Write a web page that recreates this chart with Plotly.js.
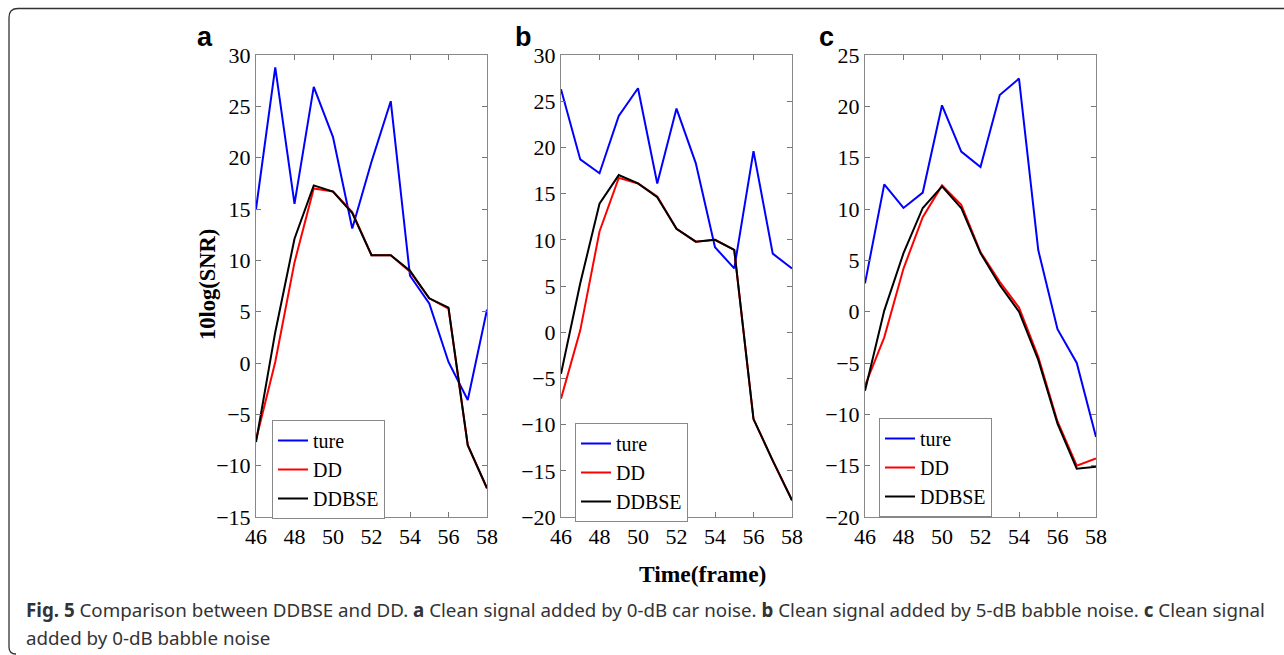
<!DOCTYPE html>
<html>
<head>
<meta charset="utf-8">
<script src="https://cdn.plot.ly/plotly-3.0.1.min.js"></script>
<style>
html,body{margin:0;padding:0;background:#fff;}
#chart{width:1284px;height:655px;}
</style>
</head>
<body>
<div id="chart"></div>
<script>
// ---- data ----
var frames = [46,47,48,49,50,51,52,53,54,55,56,57,58];
var seriesNames = ["ture","DD","DDBSE"];

var tureA  = [15.0, 28.8, 15.5, 26.9, 22.0, 13.1, 19.6, 25.5, 8.5, 5.8, 0.1, -3.6, 5.2];
var ddA    = [-7.5, 0.1, 9.8, 17.0, 16.7, 14.7, 10.5, 10.5, 8.9, 6.3, 5.3, -8.0, -12.2];
var ddbseA = [-7.7, 3.0, 12.1, 17.3, 16.7, 14.6, 10.5, 10.5, 9.0, 6.3, 5.4, -8.0, -12.2];

var tureB  = [26.3, 18.7, 17.2, 23.4, 26.4, 16.1, 24.2, 18.3, 9.2, 6.9, 19.6, 8.5, 6.9];
var ddB    = [-7.2, 0.2, 10.9, 16.7, 16.1, 14.7, 11.2, 9.8, 10.0, 8.9, -9.4, -13.9, -18.2];
var ddbseB = [-4.5, 5.3, 13.9, 17.0, 16.1, 14.6, 11.2, 9.8, 10.0, 8.9, -9.4, -13.9, -18.2];

var tureC  = [2.75, 12.4, 10.1, 11.6, 20.1, 15.6, 14.1, 21.1, 22.7, 6.0, -1.7, -5.0, -12.2];
var ddC    = [-7.2, -2.5, 4.2, 9.2, 12.3, 10.4, 5.8, 2.9, 0.4, -4.4, -10.7, -15.0, -14.3];
var ddbseC = [-7.7, 0.1, 5.7, 10.1, 12.2, 10.1, 5.7, 2.6, 0.0, -4.7, -10.9, -15.3, -15.1];

var panelLetters = ["a","b","c"];
var yRanges = [[-15,30],[-20,30],[-20,25]];
var yLabel = "10log(SNR)";
var xLabel = "Time(frame)";
var captionLine1 = "<b>Fig. 5</b> Comparison between DDBSE and DD. <b>a</b> Clean signal added by 0-dB car noise. <b>b</b> Clean signal added by 5-dB babble noise. <b>c</b> Clean signal";
var captionLine2 = "added by 0-dB babble noise";

// ---- layout helpers ----
var W = 1284, H = 655;
function px(x){ return x / W; }
function py(y){ return 1 - y / H; }
var SERIF = "Liberation Serif";

var colors = ["#0000ff", "#ff0000", "#000000"];
var panels = [[tureA, ddA, ddbseA],[tureB, ddB, ddbseB],[tureC, ddC, ddbseC]];
var xDom = [[256,487],[561,792],[865,1096]];
var legendPos = [[272,420],[575,423],[879,418]];
var letterPos = [[205,37],[523,37],[826,37]];

var traces = [];
panels.forEach(function(p, i){
  p.forEach(function(vals, j){
    traces.push({
      x: frames, y: vals, type: "scatter", mode: "lines",
      name: seriesNames[j],
      line: {color: colors[j], width: 2},
      xaxis: i === 0 ? "x" : "x" + (i+1),
      yaxis: i === 0 ? "y" : "y" + (i+1),
      legend: i === 0 ? "legend" : "legend" + (i+1)
    });
  });
});

var layout = {
  width: W, height: H,
  margin: {l:0, r:0, t:0, b:0},
  paper_bgcolor: "#fff", plot_bgcolor: "#fff",
  font: {family: SERIF, size: 21, color: "#000"},
  showlegend: true,
  annotations: [],
  shapes: [{
    type: "path", xref: "paper", yref: "paper",
    path: "M " + px(1284) + "," + py(8.5) + " L " + px(18) + "," + py(8.5) +
          " Q " + px(9) + "," + py(8.5) + " " + px(9) + "," + py(17.5) +
          " L " + px(9) + "," + py(647) +
          " Q " + px(9) + "," + py(654) + " " + px(16) + "," + py(654),
    line: {color: "#333", width: 1.3}
  }]
};

for (var i = 0; i < 3; i++) {
  var sfx = i === 0 ? "" : String(i+1);
  layout["xaxis" + sfx] = {
    domain: [px(xDom[i][0]), px(xDom[i][1])],
    anchor: "y" + sfx,
    range: [46, 58], dtick: 2, tick0: 46,
    ticks: "inside", ticklen: 5, tickcolor: "#777", tickwidth: 1,
    showline: true, linecolor: "#888", linewidth: 1, mirror: "ticks",
    showgrid: false, zeroline: false,
    tickfont: {family: SERIF, size: 22, color: "#000"}
  };
  layout["yaxis" + sfx] = {
    domain: [py(517), py(55)],
    anchor: "x" + sfx,
    range: yRanges[i], dtick: 5,
    ticks: "inside", ticklen: 5, tickcolor: "#777", tickwidth: 1,
    showline: true, linecolor: "#888", linewidth: 1, mirror: "ticks",
    showgrid: false, zeroline: false,
    tickfont: {family: SERIF, size: 22, color: "#000"}
  };
  layout["legend" + sfx] = {
    x: px(legendPos[i][0]), y: py(legendPos[i][1]),
    xref: "paper", yref: "paper",
    xanchor: "left", yanchor: "top",
    bgcolor: "#fff", bordercolor: "#888", borderwidth: 1,
    font: {family: SERIF, size: 20, color: "#000"},
    tracegroupgap: 0, itemwidth: 30
  };
  layout.annotations.push({
    text: "<b>" + panelLetters[i] + "</b>", x: px(letterPos[i][0]), y: py(letterPos[i][1]),
    xref: "paper", yref: "paper", showarrow: false, xanchor: "center", yanchor: "middle",
    font: {family: "Liberation Sans", size: 27, color: "#000"}
  });
}

layout.annotations.push({
  text: "<b>" + yLabel + "</b>", x: px(208), y: py(285), xref: "paper", yref: "paper",
  showarrow: false, textangle: -90, xanchor: "center", yanchor: "middle",
  font: {family: SERIF, size: 22.5, color: "#000"}
});
layout.annotations.push({
  text: "<b>" + xLabel + "</b>", x: px(702), y: py(574), xref: "paper", yref: "paper",
  showarrow: false, xanchor: "center", yanchor: "middle",
  font: {family: SERIF, size: 23.5, color: "#000"}
});
layout.annotations.push({
  text: captionLine1, x: px(24), y: py(609), xref: "paper", yref: "paper",
  showarrow: false, xanchor: "left", yanchor: "middle", align: "left",
  font: {family: "Noto Sans", size: 18.75, color: "#333"}
});
layout.annotations.push({
  text: captionLine2, x: px(24), y: py(637), xref: "paper", yref: "paper",
  showarrow: false, xanchor: "left", yanchor: "middle", align: "left",
  font: {family: "Noto Sans", size: 18.75, color: "#333"}
});

Plotly.newPlot("chart", traces, layout, {staticPlot: true, displayModeBar: false});
</script>
</body>
</html>
